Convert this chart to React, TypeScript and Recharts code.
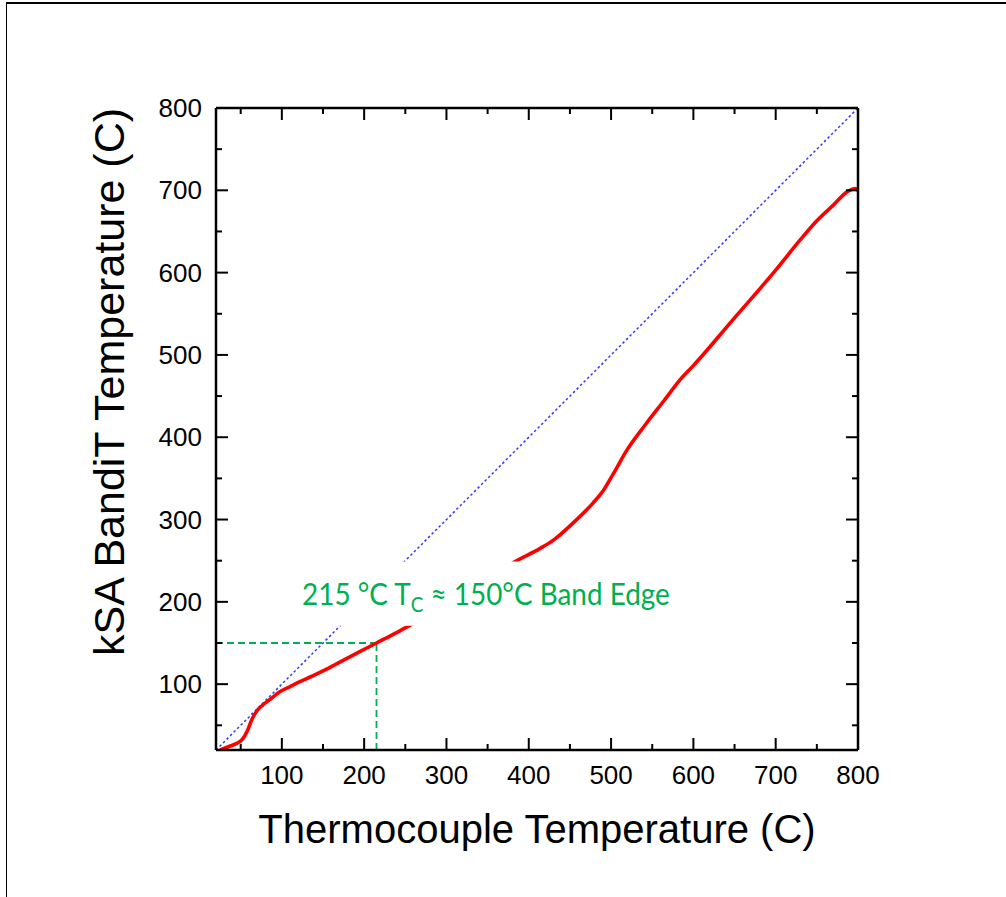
import React from 'react';
import { ComposedChart, Line, XAxis, YAxis, ReferenceArea } from 'recharts';

// ---- data ----
const axisDomain: [number, number] = [20, 800];
const axisTicks = [50, 100, 150, 200, 250, 300, 350, 400, 450, 500, 550, 600, 650, 700, 750, 800];

// measured curve: thermocouple temperature (x) vs kSA BandiT temperature (y)
const thermocoupleT = [25, 35, 45, 52, 58, 64, 70, 76, 85, 98, 110, 122, 135, 150, 167, 190, 215, 240, 262, 290, 320, 350, 380, 414, 430, 454, 478, 491, 503, 519, 543, 564, 584, 600, 650, 700, 730, 750, 770, 788, 796, 800];
const banditT = [20, 24, 28, 33, 43, 58, 68, 74, 81, 91, 97, 103, 109, 116, 125, 137, 150, 163, 175, 190, 207, 226, 247, 265, 275, 296, 320, 336, 356, 384, 417, 444, 470, 487, 545, 603, 640, 663, 682, 699, 702, 700];

// y = x reference
const identityX = [20, 800];
const identityY = [20, 800];

// band edge markers (T_C = 215 °C, band edge = 150 °C)
const bandEdgeTc = 215;
const bandEdgeT = 150;
const hGuideX = [20, bandEdgeTc];
const hGuideY = [bandEdgeT, bandEdgeT];
const vGuideX = [bandEdgeTc, bandEdgeTc];
const vGuideY = [20, bandEdgeT];

// annotation box (data units)
const noteX: [number, number] = [110, 600];
const noteY: [number, number] = [171, 249];

const curveData = thermocoupleT.map((x, i) => ({ x, y: banditT[i] }));
const identityData = identityX.map((x, i) => ({ x, y: identityY[i] }));
const hGuideData = hGuideX.map((x, i) => ({ x, y: hGuideY[i] }));
const vGuideData = vGuideX.map((x, i) => ({ x, y: vGuideY[i] }));

const FONT = '"Liberation Sans", Arial, sans-serif';
const MAJOR = 12;
const MINOR = 6;
const TICK_FS = 26;

const isMajor = (v: number) => v % 100 === 0;

const BottomTick = (p: any) => {
  const { x, y, payload } = p;
  const v = payload.value;
  return (
    <g>
      <line x1={x} x2={x} y1={y} y2={y - (isMajor(v) ? MAJOR : MINOR)} stroke="#000" strokeWidth={2} />
      {isMajor(v) && (
        <text x={x} y={y + 34} textAnchor="middle" fontSize={TICK_FS} fontFamily={FONT} fill="#000">{v}</text>
      )}
    </g>
  );
};
const TopTick = (p: any) => {
  const { x, y, payload } = p;
  const v = payload.value;
  return <line x1={x} x2={x} y1={y} y2={y + (isMajor(v) ? MAJOR : MINOR)} stroke="#000" strokeWidth={2} />;
};
const LeftTick = (p: any) => {
  const { x, y, payload } = p;
  const v = payload.value;
  return (
    <g>
      <line x1={x} x2={x + (isMajor(v) ? MAJOR : MINOR)} y1={y} y2={y} stroke="#000" strokeWidth={2} />
      {isMajor(v) && (
        <text x={x - 14} y={y + 9} textAnchor="end" fontSize={TICK_FS} fontFamily={FONT} fill="#000">{v}</text>
      )}
    </g>
  );
};
const RightTick = (p: any) => {
  const { x, y, payload } = p;
  const v = payload.value;
  return <line x1={x} x2={x - (isMajor(v) ? MAJOR : MINOR)} y1={y} y2={y} stroke="#000" strokeWidth={2} />;
};

const XTitle = (p: any) => {
  const vb = p.viewBox;
  return (
    <text x={vb.x + vb.width / 2} y={vb.y + 93} textAnchor="middle" fontSize={40} fontFamily={FONT} fill="#000">
      Thermocouple Temperature (C)
    </text>
  );
};
const YTitle = () => {
  const cx = 124;
  const cy = 382;
  return (
    <text x={cx} y={cy} transform={`rotate(-90, ${cx}, ${cy})`} textAnchor="middle" fontSize={43} fontFamily={FONT} fill="#000">
      kSA BandiT Temperature (C)
    </text>
  );
};

const NoteLabel = (p: any) => {
  const vb = p.viewBox;
  const tx = vb.x + 12;
  const ty = vb.y + 43;
  return (
    <text x={0} y={0} transform={`translate(${tx}, ${ty}) scale(0.9, 1)`} fontSize={31}
      fontFamily='Lato, "Open Sans", sans-serif' fill="#00B050">
      215 °C T<tspan fontSize={21} dy={7}>C</tspan><tspan dy={-7}> ≈ 150°C Band Edge</tspan>
    </text>
  );
};

const axisLine = { stroke: '#000', strokeWidth: 2.5 };

export default function App() {
  return (
    <div style={{ position: 'absolute', left: 0, top: 0, width: 1006, height: 897, background: '#fff' }}>
      <div style={{ position: 'absolute', left: 6, top: 2, width: 1000, height: 895, borderTop: '2px solid #000', borderLeft: '1.5px solid #000' }} />
      <div style={{ position: 'absolute', left: 0, top: 0 }}>
        <ComposedChart width={1006} height={897} margin={{ top: 0, right: 0, bottom: 0, left: 0 }}>
          <XAxis xAxisId="b" type="number" dataKey="x" domain={axisDomain} ticks={axisTicks} interval={0}
            orientation="bottom" height={147} tickSize={0} tickMargin={0} tickLine={false}
            axisLine={axisLine} tick={<BottomTick />} label={XTitle} allowDataOverflow />
          <XAxis xAxisId="t" type="number" dataKey="x" domain={axisDomain} ticks={axisTicks} interval={0}
            orientation="top" height={108} tickSize={0} tickMargin={0} tickLine={false}
            axisLine={axisLine} tick={<TopTick />} allowDataOverflow />
          <YAxis yAxisId="l" type="number" dataKey="y" domain={axisDomain} ticks={axisTicks} interval={0}
            orientation="left" width={216} tickSize={0} tickMargin={0} tickLine={false}
            axisLine={axisLine} tick={<LeftTick />} label={YTitle} allowDataOverflow />
          <YAxis yAxisId="r" type="number" dataKey="y" domain={axisDomain} ticks={axisTicks} interval={0}
            orientation="right" width={148} tickSize={0} tickMargin={0} tickLine={false}
            axisLine={axisLine} tick={<RightTick />} allowDataOverflow />

          <Line xAxisId="t" yAxisId="r" data={identityData} dataKey="y" type="linear" stroke="#3535ff"
            strokeWidth={1.5} strokeDasharray="2.5 2.5" dot={false} isAnimationActive={false} />
          <Line xAxisId="b" yAxisId="l" data={hGuideData} dataKey="y" type="linear" stroke="#00B050"
            strokeWidth={1.8} strokeDasharray="7 4" dot={false} isAnimationActive={false} />
          <Line xAxisId="b" yAxisId="l" data={vGuideData} dataKey="y" type="linear" stroke="#00B050"
            strokeWidth={1.8} strokeDasharray="7 4" dot={false} isAnimationActive={false} />
          <Line xAxisId="b" yAxisId="l" data={curveData} dataKey="y" type="monotone" stroke="#FF0000"
            strokeWidth={3.6} dot={false} isAnimationActive={false} />

          <ReferenceArea xAxisId="b" yAxisId="l" x1={noteX[0]} x2={noteX[1]} y1={noteY[0]} y2={noteY[1]}
            fill="#fff" fillOpacity={1} stroke="none" label={NoteLabel} zIndex={1500} ifOverflow="visible" />
        </ComposedChart>
      </div>
    </div>
  );
}
